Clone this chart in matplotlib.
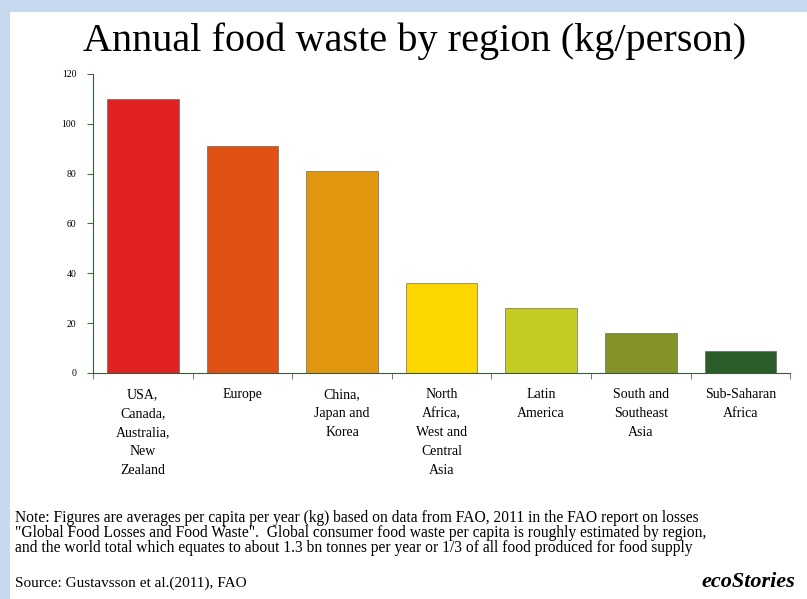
import matplotlib.pyplot as plt
from matplotlib.patches import Rectangle

# Daten
regions = ["USA,\nCanada,\nAustralia,\nNew\nZealand", "Europe", "China,\nJapan and\nKorea",
           "North\nAfrica,\nWest and\nCentral\nAsia", "Latin\nAmerica",
           "South and\nSoutheast\nAsia", "Sub-Saharan\nAfrica"]
waste = [110, 91, 81, 36, 26, 16, 9]
colors = ["#e02222", "#e05214", "#e0960f", "#fdd600", "#c2cc22", "#859228", "#2b5d2b"]
yticks = [0, 20, 40, 60, 80, 100, 120]

note = ("Note: Figures are averages per capita per year (kg) based on data from FAO, 2011 in the FAO report on losses\n"
        "\"Global Food Losses and Food Waste\".  Global consumer food waste per capita is roughly estimated by region,\n"
        "and the world total which equates to about 1.3 bn tonnes per year or 1/3 of all food produced for food supply")
source = "Source: Gustavsson et al.(2011), FAO"

fig = plt.figure(figsize=(8.07, 5.99), dpi=100)
fig.patch.set_facecolor("#c6d9ef")
fig.patches.append(Rectangle((10 / 807, 0), 1, 1 - 12 / 599, transform=fig.transFigure,
                             facecolor="white", edgecolor="none", zorder=-5))

ax = fig.add_axes([0.1152, 0.3773, 0.864, 0.4992])
ax.set_zorder(2)
ax.patch.set_alpha(0)
ax.bar(range(len(waste)), waste, width=0.72, color=colors, edgecolor="#555555", linewidth=0.4)
ax.set_xlim(-0.48, 6.5)
ax.set_ylim(0, 120)
ax.set_yticks(yticks)
ax.set_yticklabels([str(v) for v in yticks], fontsize=7, family="Liberation Serif")
ax.set_xticks(range(len(regions)))
ax.set_xticklabels(regions, fontsize=10, family="Liberation Serif", linespacing=1.6, va="top")
ax.tick_params(axis="x", length=0, pad=11)
ax.set_xticks([i + 0.5 for i in range(-1, len(regions))], minor=True)
ax.tick_params(axis="x", which="minor", length=4, color="#556655")
ax.tick_params(axis="y", length=4, color="#556655", pad=8)
for s in ["top", "right"]:
    ax.spines[s].set_visible(False)
ax.spines["left"].set_color("#3a5a3a")
ax.spines["bottom"].set_color("#3a5a3a")

fig.text(0.514, 0.932, "Annual food waste by region (kg/person)", ha="center", va="center",
         fontsize=29, family="Liberation Serif")
fig.text(0.019, 0.11, note, ha="left", va="center", fontsize=11.2, family="Liberation Serif",
         linespacing=0.93)
fig.text(0.019, 0.027, source, ha="left", va="center", fontsize=11, family="Liberation Serif")
fig.text(0.985, 0.028, "ecoStories", ha="right", va="center", fontsize=16,
         family="Liberation Serif", style="italic", weight="bold")

fig.savefig("out.png", dpi=100)
